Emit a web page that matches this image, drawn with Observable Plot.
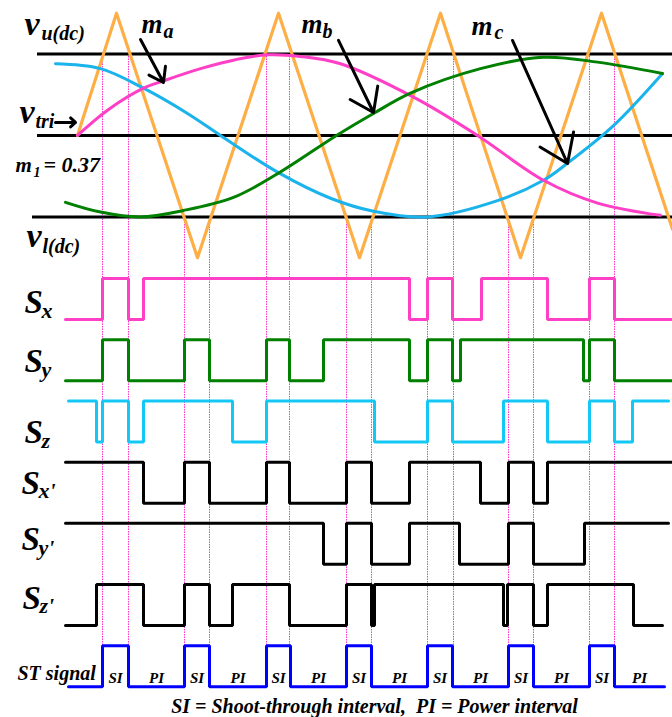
<!DOCTYPE html>
<html>
<head>
<meta charset="utf-8">
<script src="https://cdn.jsdelivr.net/npm/d3@7"></script>
<script src="https://cdn.jsdelivr.net/npm/@observablehq/plot@0.6"></script>
<style>
  body { margin: 0; background: #fff; }
  #chart svg { display: block; }
</style>
</head>
<body>
<div id="chart"></div>
<script>
// ---- Carrier and modulating waves (time t, value v; dc rails at v = ±1) ----
const carrierT = [77, 116, 197, 278, 359, 440, 520, 601, 672];
const carrierV = [0, 1.5, -1.5, 1.5, -1.5, 1.5, -1.5, 1.5, -1.15];

const maT = [77, 107, 143, 163, 200, 235, 267, 300, 340, 413, 477, 543, 597, 660];
const maV = [0, 0.31, 0.58, 0.67, 0.82, 0.93, 0.99, 0.97, 0.88, 0.47, 0, -0.55, -0.83, -0.98];

const mbT = [65, 100, 140, 183, 233, 277, 336, 373, 410, 480, 543, 597, 662];
const mbV = [-0.82, -0.94, -1.0, -0.92, -0.76, -0.47, 0, 0.27, 0.52, 0.82, 0.96, 0.90, 0.76];

const mcT = [55, 100, 143, 187, 220, 277, 330, 373, 427, 497, 543, 567, 613, 662];
const mcV = [0.88, 0.82, 0.58, 0.27, 0, -0.45, -0.77, -0.93, -1.0, -0.80, -0.55, -0.34, 0.12, 0.76];

// dc rails: upper, triangle reference, lower
const railV = [1, 0, -1];
const railStart = [37, 37, 32];

// ---- Switching signals: initial state, start, end, toggle instants ----
const sigNames = ["Sx", "Sy", "Sz", "Sx'", "Sy'", "Sz'", "ST"];
const sigInit  = [0, 0, 1, 1, 1, 0, 0];
const sigStart = [65, 65, 68, 65, 65, 65, 68];
const sigEnd   = [672, 672, 668, 672, 668, 662, 664];
const sigToggles = [
  [102, 128, 143, 409, 427, 452, 481, 547, 589, 614],
  [102, 128, 184, 209, 266, 289, 323, 409, 427, 452, 460, 583, 589, 614],
  [96, 102, 128, 143, 232, 266, 374, 427, 452, 503, 547, 589, 614, 632],
  [143, 184, 209, 266, 289, 346, 371, 409, 480, 508, 533, 547],
  [323, 346, 371, 409, 459, 508, 533, 584],
  [96, 143, 184, 209, 232, 289, 346, 371, 374, 503, 507, 533, 547, 633],
  [102, 128, 184, 209, 266, 290, 346, 371, 427, 452, 508, 533, 589, 614]
];
const sigColors = ["#ff3fc6", "#008000", "#14c8f5", "#000", "#000", "#000", "#0000ff"];

// shoot-through edges (carrier crossing a dc rail) and the rail each one starts from
const stEdges = [102, 128, 184, 209, 266, 289, 346, 371, 427, 453, 508, 533, 589, 614];
const stRail  = [1, 1, -1, -1, 1, 1, -1, -1, 1, 1, -1, -1, 1, 1];

// ---- Layout of the signal rows (in v units) ----
const rowTop = -1.755, rowPitch = 0.751, pulse = 0.503;
const level = (k, s) => rowTop - k * rowPitch - (s ? 0 : pulse);

function stepPoints(k) {
  const pts = [];
  let s = sigInit[k];
  pts.push({t: sigStart[k], v: level(k, s), k});
  for (const t of sigToggles[k]) {
    pts.push({t, v: level(k, s), k});
    s = 1 - s;
    pts.push({t, v: level(k, s), k});
  }
  pts.push({t: sigEnd[k], v: level(k, s), k});
  return pts;
}

const zip = (T, V) => T.map((t, i) => ({t, v: V[i]}));
const carrier = zip(carrierT, carrierV);
const ma = zip(maT, maV), mb = zip(mbT, mbV), mc = zip(mcT, mcV);
const rails = railV.map((v, i) => ({v, t0: railStart[i]}));
const stLines = stEdges.map((t, i) => ({t, v1: stRail[i], v2: level(6, 1)}));
const signals = sigNames.flatMap((_, k) => stepPoints(k));

// SI / PI interval labels along the ST signal
const stTog = sigToggles[6];
const intervalLabels = [];
for (let i = 0; i < stTog.length; i += 2) {
  intervalLabels.push({t: (stTog[i] + stTog[i + 1]) / 2, v: -6.712, text: "SI"});
  const next = i + 2 < stTog.length ? stTog[i + 2] : sigEnd[6];
  intervalLabels.push({t: (stTog[i + 1] + next) / 2, v: -6.712, text: "PI"});
}

// ---- Text labels (base glyph + subscript) ----
const font = "'Liberation Serif', 'Times New Roman', serif";
const vLabels = [
  {t: 24, v: 1.227, text: "v"}, {t: 19, v: 0.147, text: "v"}, {t: 26, v: -1.374, text: "v"}
];
const mLabels = [
  {t: 141, v: 1.252, text: "m"}, {t: 301, v: 1.252, text: "m"}, {t: 471, v: 1.227, text: "m"}
];
const subLabels = [
  {t: 41, v: 1.166, text: "u(dc)"}, {t: 35, v: 0.086, text: "tri"}, {t: 42, v: -1.436, text: "l(dc)"},
  {t: 163, v: 1.190, text: "a"}, {t: 322, v: 1.190, text: "b"}, {t: 494, v: 1.178, text: "c"}
];
const sBaseV = [-2.184, -2.908, -3.779, -4.393, -5.092, -5.804];
const sBaseT = [24, 24, 24, 21, 21, 22];
const sSubs = ["x", "y", "z", "x'", "y'", "z'"];
const sLabels = sBaseV.map((v, i) => ({t: sBaseT[i], v, text: "S"}));
const sSubLabels = sBaseV.map((v, i) => ({t: sBaseT[i] + 17, v: v - 0.05, text: sSubs[i]}));

const arrows = [
  {t1: 140, v1: 1.178, t2: 163, v2: 0.650},
  {t1: 338, v1: 1.166, t2: 373, v2: 0.282},
  {t1: 512, v1: 1.166, t2: 567, v2: -0.344}
];

const txt = (data, size, extra = {}) => Plot.text(data, {
  x: "t", y: "v", text: "text", textAnchor: "start", lineAnchor: "bottom",
  fontFamily: font, fontSize: size, fontWeight: "bold", fontStyle: "italic", fill: "#000", ...extra
});

const chart = Plot.plot({
  width: 672, height: 717,
  margin: 0,
  x: {domain: [0, 672], axis: null},
  y: {domain: [-7.141, 1.656], axis: null},
  marks: [
    // dotted markers at the shoot-through edges
    Plot.ruleX(stLines, {x: "t", y1: "v1", y2: "v2", stroke: "#ff33cc", strokeWidth: 1, strokeDasharray: "1.5,1"}),
    // dc rails
    Plot.ruleY(rails, {y: "v", x1: "t0", x2: 672, stroke: "#000", strokeWidth: 3}),
    // triangular carrier
    Plot.line(carrier, {x: "t", y: "v", stroke: "#fdae45", strokeWidth: 3.2}),
    // modulating references
    Plot.line(mc, {x: "t", y: "v", stroke: "#1ab3ec", strokeWidth: 3, curve: "catmull-rom"}),
    Plot.line(ma, {x: "t", y: "v", stroke: "#ff3fc6", strokeWidth: 3, curve: "catmull-rom"}),
    Plot.line(mb, {x: "t", y: "v", stroke: "#008000", strokeWidth: 3, curve: "catmull-rom"}),
    // switching signals
    Plot.line(signals, {x: "t", y: "v", z: "k", stroke: d => sigColors[d.k], strokeWidth: 3,
      strokeLinejoin: "miter"}),
    // arrows
    Plot.arrow(arrows, {x1: "t1", y1: "v1", x2: "t2", y2: "v2", stroke: "#000", strokeWidth: 3,
      headLength: 16, headAngle: 70}),
    Plot.arrow([{t1: 55, t2: 75, v: 0.16}], {x1: "t1", x2: "t2", y1: "v", y2: "v", stroke: "#000",
      strokeWidth: 3, headLength: 15, headAngle: 85}),
    // labels
    txt(vLabels, 34),
    txt(mLabels, 27),
    txt(subLabels, 20),
    txt([{t: 15, v: -0.454, text: "m"}], 21),
    txt([{t: 33, v: -0.51, text: "1"}], 14),
    txt([{t: 43, v: -0.454, text: "= 0.37"}], 22),
    txt(sLabels, 33),
    txt(sSubLabels, 22),
    txt([{t: 17, v: -6.675, text: "ST signal"}], 20),
    txt(intervalLabels, 15, {textAnchor: "middle"}),
    txt([{t: 374, v: -7.08, text: "SI = Shoot-through interval,  PI = Power interval"}], 20, {textAnchor: "middle"})
  ]
});
document.getElementById("chart").append(chart);
</script>
</body>
</html>
